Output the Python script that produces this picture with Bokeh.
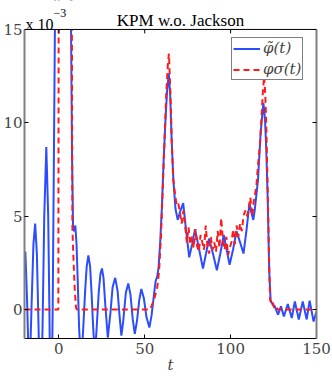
from bokeh.plotting import figure
from bokeh.models import Range1d, FixedTicker, Legend, LegendItem, LinearAxis, CustomJSTickFormatter
from bokeh.core.properties import value
from bokeh.embed import file_html
from bokeh.resources import INLINE

# values in units of 1e-3
blue_t = [-20, -19.5, -18.5, -17.2, -15.8, -14.8, -13.8, -12.8, -11.8, -10.8, -9.5, -8.5, -7.3, -6.2, -5.5,
          -4.6, -3.6, -2.9, -2.3, -1, 1, 3, 5, 6.3, 7.1, 7.7, 8.3, 9.0, 9.6, 10.3, 11.0, 11.8, 13.0, 14.2,
          15.3, 16.2, 17.2, 18.2, 19.1, 20.0, 21.0, 22.0, 23.2, 24.2, 25.1, 26.0, 27.0, 28.5, 30.0, 31.3,
          32.8, 34.2, 35.3, 36.4, 37.5, 39.0, 40.4, 41.7, 43.0, 44.2, 45.5, 46.8, 48.0, 49.5, 51.0, 52.7,
          54.0, 55.5, 56.3, 57.3, 58.0, 59.0, 60.0, 61.0, 62.0, 63.0, 64.0, 64.8, 65.7, 66.7, 67.9, 69.2,
          70.8, 72.4, 74.0, 75.9, 77.6, 79.3, 81.5, 83.9, 85.7, 87.4, 89.7, 92.0, 94.0, 96.0, 97.7, 99.4,
          101.4, 103.4, 105.5, 107.5, 109.3, 111.0, 112.1, 113.2, 114.0, 115.9, 117.5, 119.1, 120.0, 120.7,
          121.6, 122.5, 123.3, 124.5, 125.6, 127.6, 129.3, 131.0, 133.3, 135.6, 137.4, 139.7, 142.0, 144.3,
          146.0, 148.3, 150.0]
blue_v = [3.0, 3.1, 0.5, -4.0, 0.5, 3.5, 4.6, 3.0, -1.0, -6.0, -1.0, 5.0, 8.7, 5.0, 0.0,
          -8.0, 0.0, 8.0, 15.0, 30.0, 45.0, 50.0, 35.0, 22.0, 15.0, 8.0, 4.3, 4.2, 4.5, 3.5, 1.5, -1.0, -3.0, -1.0,
          1.0, 2.3, 2.9, 2.3, 0.8, -1.0, -2.5, -1.0, 0.9, 1.9, 2.2, 1.7, 0.3, -1.5, -0.2, 1.2,
          1.7, 1.0, -0.3, -1.4, -0.6, 0.9, 1.4, 0.8, -0.5, -1.3, -0.6, 0.5, 1.1, 0.6, -0.4, -0.96,
          -0.3, 0.9, 1.5, 1.8, 2.2, 3.6, 5.5, 8.0, 10.0, 11.7, 12.65, 11.5, 9.0, 6.9, 5.4, 4.8,
          5.3, 5.7, 4.3, 2.8, 3.5, 4.3, 3.3, 2.2, 3.0, 3.8, 3.0, 2.1, 3.0, 4.0, 3.2, 2.4,
          3.2, 4.2, 3.6, 3.0, 4.3, 5.7, 5.2, 4.8, 5.3, 6.9, 9.5, 11.07, 10.2, 8.7,
          5.9, 2.0, 0.5, 0.25, 0.2, -0.27, 0.17, -0.37, 0.3, -0.45, 0.43, -0.53, 0.43, -0.53,
          0.48, -0.64, -0.1]

red_t = [-20, -0.3, 0.0, 3.0, 7.3, 7.6, 7.9, 8.6, 9.3, 10.0, 10.5, 53.0, 54.0, 55.3, 56.2, 57.3, 58.3,
         59.5, 60.5, 61.5, 62.5, 63.5, 64.1, 65.0, 65.8, 66.6, 67.5, 68.5, 69.5, 70.5, 71.5, 72.5, 73.5,
         74.5, 75.5, 76.5, 77.5, 78.5, 79.5, 80.5, 81.5, 82.5, 83.5, 84.5, 85.5, 86.5, 87.5, 88.5, 89.5,
         90.5, 91.5, 92.5, 93.5, 94.5, 95.5, 96.5, 97.5, 98.5, 99.5, 100.5, 101.5, 102.5, 103.5, 104.5,
         105.5, 106.5, 107.5, 108.5, 109.5, 110.5, 111.5, 112.6, 113.5, 115.0, 116.0, 117.0, 118.0, 118.8,
         119.5, 120.2, 120.7, 121.6, 122.3, 123.0, 123.8, 124.5, 125.3, 126.3, 127.5, 150.0]
red_v = [0, 0, 25, 60, 25, 15, 4.3, 2.5, 1.0, 0.1, 0, 0, 0.2, 0.5, 0.8, 1.2, 2.0,
         4.0, 6.5, 9.0, 11.5, 13.2, 13.7, 11.5, 8.8, 7.0, 6.3, 5.6, 5.7, 5.2, 4.6, 5.3, 4.5,
         3.6, 4.4, 3.5, 3.9, 3.3, 4.3, 3.4, 3.1, 4.0, 3.6, 3.2, 4.5, 3.4, 3.0, 3.9, 3.2,
         3.6, 3.1, 4.2, 3.3, 4.9, 3.7, 3.2, 3.9, 2.9, 3.3, 3.6, 4.3, 3.5, 4.5, 3.9,
         4.6, 4.2, 5.0, 5.3, 5.0, 5.4, 6.0, 5.0, 5.8, 6.6, 7.8, 8.7, 10.3, 11.7,
         12.5, 11.5, 10.0, 6.4, 3.0, 0.5, 0.3, 0.4, 0.1, 0.2, 0.0, 0.0]

x_min, x_max = -20, 150
y_min, y_max = -1.55, 15
x_ticks = [0, 50, 100, 150]
y_ticks = [0, 5, 10, 15]
title_text = "KPM w.o. Jackson"
mult_text = "x 10"
exp_text = "−3"
labels = ["φ̃(t)", "φσ(t)"]

SERIF = "Liberation Serif"
AXFONT = "DejaVu Serif"
HEAD = 1.55  # extra data units above the axes box for the title row

p = figure(width=332, height=376, x_range=Range1d(x_min, x_max), y_range=Range1d(y_min, y_max + HEAD),
           output_backend="svg", toolbar_location=None,
           min_border_left=21, min_border_right=16, min_border_top=0, min_border_bottom=37)
p.grid.visible = False
p.outline_line_color = None
p.background_fill_color = "white"

for ax in p.xaxis:
    ax.ticker = FixedTicker(ticks=x_ticks)
    ax.axis_label = "t"
    ax.axis_label_text_font = AXFONT
    ax.axis_label_text_font_style = "italic"
    ax.axis_label_text_font_size = "15px"
    ax.axis_label_standoff = -1
    ax.major_label_text_font = AXFONT
    ax.major_label_text_font_size = "15px"
    ax.major_label_standoff = 4
    ax.major_tick_in = 4
    ax.major_tick_out = 0
    ax.minor_tick_line_color = None
    ax.axis_line_color = "black"
for ax in p.yaxis:
    ax.ticker = FixedTicker(ticks=y_ticks)
    ax.bounds = (y_min, y_max)
    ax.major_label_text_font = AXFONT
    ax.major_label_text_font_size = "15px"
    ax.major_label_standoff = 2
    ax.major_tick_in = 4
    ax.major_tick_out = 0
    ax.minor_tick_line_color = None
    ax.axis_line_color = "#808080"
    ax.axis_line_width = 2

right = LinearAxis(ticker=FixedTicker(ticks=y_ticks), bounds=(y_min, y_max),
                   formatter=CustomJSTickFormatter(code="return ''"), major_label_text_font_size="0px",
                   major_label_standoff=0, major_tick_in=4, major_tick_out=0, minor_tick_line_color=None,
                   axis_line_color="#808080", axis_line_width=2)
p.add_layout(right, "right")

r1 = p.line(blue_t, blue_v, line_color="#2b4cff", line_width=2)
r2 = p.line(red_t, red_v, line_color="#ff1a1a", line_width=2, line_dash="6 4")

# white cover above the axes box (title row), then the top border and its ticks
p.quad(left=[x_min], right=[x_max], bottom=[y_max], top=[y_max + HEAD], fill_color="white",
       line_color=None)
p.segment(x0=[x_min], y0=[y_max], x1=[x_max], y1=[y_max], line_color="black", line_width=1)
p.ray(x=x_ticks[:-1], y=[y_max] * 3, length=4, angle=-1.5708, line_color="black", line_width=1,
      length_units="screen")

legend = Legend(items=[LegendItem(label=labels[0], renderers=[r1]),
                       LegendItem(label=labels[1], renderers=[r2])],
                location=(207, 258), margin=0, padding=1, spacing=3,
                glyph_width=27, glyph_height=15, label_height=15, label_standoff=3,
                label_text_font=AXFONT, label_text_font_style="italic", label_text_font_size="15px",
                border_line_color="black", border_line_width=1, background_fill_alpha=1)
p.add_layout(legend)

# title row texts
p.text(x=[(x_min + x_max) / 2], y=[y_max], text=[title_text], x_offset=10, y_offset=-9,
       text_font=value(SERIF), text_font_size="17px", text_baseline="alphabetic",
       text_align="center", text_color="black")
p.text(x=[x_min], y=[y_max], text=[mult_text], x_offset=1, y_offset=-5,
       text_font=value(SERIF), text_font_size="16px", text_baseline="alphabetic",
       text_align="left", text_color="black")
p.text(x=[x_min], y=[y_max], text=[exp_text], x_offset=29, y_offset=-16,
       text_font=value(SERIF), text_font_size="12px", text_baseline="alphabetic",
       text_align="left", text_color="black")

open("out.html", "w").write(file_html(p, INLINE))
